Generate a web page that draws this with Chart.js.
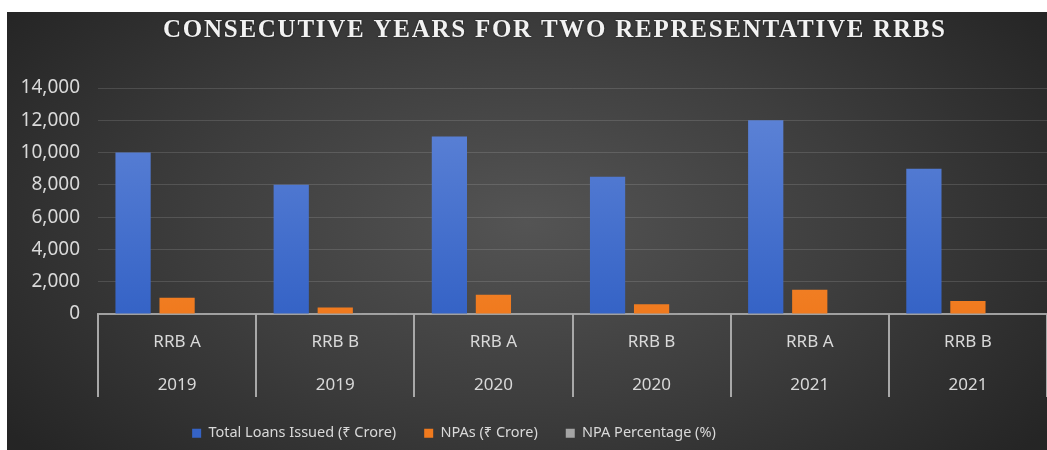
<!DOCTYPE html>
<html>
<head>
<meta charset="utf-8">
<script src="https://cdn.jsdelivr.net/npm/chart.js@4.4.1/dist/chart.umd.min.js"></script>
<style>
  html, body { margin: 0; padding: 0; background: #ffffff; }
  #wrap { position: absolute; left: 7px; top: 12px; width: 1040px; height: 438px; }
</style>
</head>
<body>
<div id="wrap"><canvas id="chart"></canvas></div>
<script>
const chartTitle = "CONSECUTIVE YEARS FOR TWO REPRESENTATIVE RRBS";
const banks = ["RRB A", "RRB B", "RRB A", "RRB B", "RRB A", "RRB B"];
const years = ["2019", "2019", "2020", "2020", "2021", "2021"];
const totalLoans = [10000, 8000, 11000, 8500, 12000, 9000];
const npas = [1000, 400, 1200, 600, 1500, 800];
const npaPercent = [10, 5, 10.9, 7.1, 12.5, 8.9];
const yTicks = [0, 2000, 4000, 6000, 8000, 10000, 12000, 14000];

const labels = banks.map((b, i) => [b, years[i]]);
const legendGap = 28;

// dark radial background, category separators, spaced serif title
const panelPlugin = {
  id: "panel",
  afterInit(chart) {
    // wide gaps between legend items but a short legend box
    const legend = chart.legend;
    const fit = legend.fit;
    legend.fit = function () {
      fit.call(this);
      this.height = 36;
    };
  },
  afterLayout(chart) {
    // legend sits left of centre in the original
    const legend = chart.legend;
    legend.left -= 73;
    legend.right -= 73;
    legend.top -= legendGap - 12;
  },
  beforeDraw(chart) {
    const { ctx, width, height } = chart;
    ctx.save();
    ctx.translate(width * 0.5, height * 0.48);
    ctx.scale(1, 0.55);
    const g = ctx.createRadialGradient(0, 0, 0, 0, 0, width * 0.62);
    g.addColorStop(0, "#545454");
    g.addColorStop(0.5, "#3e3e3e");
    g.addColorStop(1, "#252525");
    ctx.fillStyle = g;
    ctx.fillRect(-width, -height * 2, width * 2, height * 4);
    ctx.restore();
  },
  afterDraw(chart) {
    const ctx = chart.ctx;
    const xs = chart.scales.x;
    const n = labels.length;
    const bottom = chart.chartArea.bottom;
    ctx.save();
    ctx.strokeStyle = "#a8a8a8";
    ctx.lineWidth = 2;
    for (let i = 0; i <= n; i++) {
      const x = Math.round(xs.left + i * xs.width / n);
      ctx.beginPath();
      ctx.moveTo(x, bottom);
      ctx.lineTo(x, bottom + 83);
      ctx.stroke();
    }
    ctx.restore();

    ctx.save();
    ctx.font = "bold 25px 'Liberation Serif'";
    const target = 782;
    const w = ctx.measureText(chartTitle).width;
    const ls = (target - w) / (chartTitle.length - 1);
    ctx.letterSpacing = ls + "px";
    ctx.fillStyle = "#f2f2f2";
    ctx.textBaseline = "middle";
    ctx.textAlign = "left";
    ctx.shadowColor = "rgba(0,0,0,0.5)";
    ctx.shadowBlur = 2;
    ctx.fillText(chartTitle, 547 - target / 2, 19);
    ctx.restore();
  }
};

function blueFill(context) {
  const area = context.chart.chartArea;
  if (!area) return "#4472c4";
  const g = context.chart.ctx.createLinearGradient(0, area.top, 0, area.bottom);
  g.addColorStop(0, "#6186d8");
  g.addColorStop(1, "#3563c6");
  return g;
}
function orangeFill(context) {
  const area = context.chart.chartArea;
  if (!area) return "#ed7d31";
  const g = context.chart.ctx.createLinearGradient(0, area.top, 0, area.bottom);
  g.addColorStop(0, "#f59a4a");
  g.addColorStop(1, "#f07a1e");
  return g;
}

new Chart(document.getElementById("chart"), {
  type: "bar",
  data: {
    labels: labels,
    datasets: [
      { label: "Total Loans Issued (₹ Crore)", data: totalLoans, backgroundColor: blueFill },
      { label: "NPAs (₹ Crore)", data: npas, backgroundColor: orangeFill },
      { label: "NPA Percentage (%)", data: npaPercent, backgroundColor: "#a5a5a5" }
    ]
  },
  options: {
    responsive: true,
    maintainAspectRatio: false,
    animation: false,
    datasets: { bar: { barPercentage: 0.8, categoryPercentage: 0.835 } },
    layout: { padding: { top: 76, left: 0, right: 0, bottom: 0 } },
    scales: {
      x: {
        afterFit(scale) { scale.height = 100; },
        grid: { display: false },
        border: { display: true, color: "#a0a0a0", width: 2 },
        ticks: {
          color: "#d9d9d9",
          padding: -1.5,
          maxRotation: 0,
          autoSkip: false,
          font: { family: "'Noto Sans'", size: 17, lineHeight: 2.53 }
        }
      },
      y: {
        min: 0,
        max: 14000,
        afterFit(scale) { scale.width = 91; },
        afterBuildTicks(scale) { scale.ticks = yTicks.map(v => ({ value: v })); },
        grid: { color: "rgba(255,255,255,0.13)", lineWidth: 1, drawTicks: false },
        border: { display: false },
        ticks: {
          color: "#d9d9d9",
          padding: 18,
          font: { family: "'Noto Sans'", size: 19 },
          callback: v => v.toLocaleString("en-US")
        }
      }
    },
    plugins: {
      title: { display: false },
      tooltip: { enabled: false },
      legend: {
        position: "bottom",
        labels: {
          color: "#d9d9d9",
          boxWidth: 9,
          boxHeight: 9,
          padding: legendGap,
          font: { family: "'Noto Sans'", size: 14.5 }
        }
      }
    }
  },
  plugins: [panelPlugin]
});
</script>
</body>
</html>
